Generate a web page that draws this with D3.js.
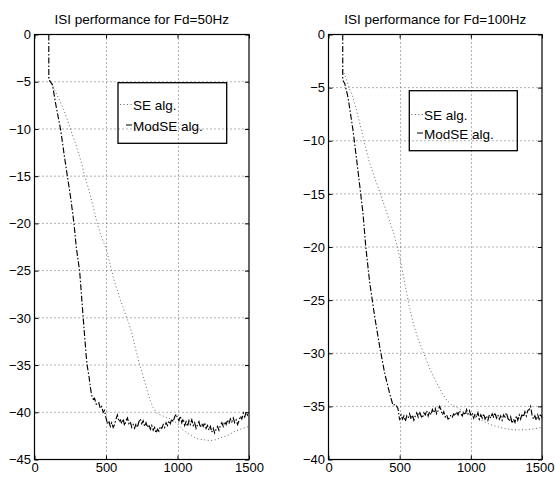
<!DOCTYPE html>
<html>
<head>
<meta charset="utf-8">
<script src="https://cdn.jsdelivr.net/npm/d3@7"></script>
<style>
  html, body { margin: 0; padding: 0; background: #fff; }
  svg { display: block; font-family: "Liberation Sans", Arial, Helvetica, sans-serif; }
</style>
</head>
<body>
<svg width="555" height="480"></svg>
<script>
// ---- data (iteration, ISI in dB) ----
const xTicks = [0, 500, 1000, 1500];
const yTicks50 = [0, -5, -10, -15, -20, -25, -30, -35, -40, -45];
const yTicks100 = [0, -5, -10, -15, -20, -25, -30, -35, -40];
const legendLabels = ['SE alg.', 'ModSE alg.'];
const titles = ['ISI performance for Fd=50Hz', 'ISI performance for Fd=100Hz'];

// Fd = 50Hz
const se50 = [
  [100, -4.5], [110, -4.9], [136, -5.7], [170, -6.8], [206, -8.0], [253, -10.1], [290, -11.7],
  [323, -13.3], [350, -14.9], [381, -16.5], [410, -18.2], [439, -20.0], [465, -21.3], [486, -22.1],
  [500, -22.6], [530, -24.4], [556, -26.0], [590, -27.6], [626, -29.2], [660, -30.6], [680, -31.6],
  [715, -33.8], [754, -35.9], [790, -37.8], [808, -38.7], [830, -39.5], [855, -40.1], [900, -40.4],
  [948, -40.7], [1000, -41.2], [1041, -41.9], [1090, -42.4], [1134, -42.8], [1180, -42.9],
  [1227, -43.0], [1270, -42.9], [1320, -42.6], [1360, -42.4], [1390, -42.1], [1440, -41.8], [1500, -41.5]
];
const modse50Head = [
  [100, 0], [100, -4.8], [110, -5.0], [125, -5.3], [150, -7.5], [183, -10.1], [210, -13.0],
  [230, -15.0], [255, -17.5], [276, -20.0], [292, -22.5], [316, -25.1], [341, -30.1], [362, -34.1],
  [369, -35.1], [381, -36.2], [390, -37.3]
];
// from 400 to 1500, every 10 iterations
const modse50Tail = [
  -38.2, -38.6, -38.5, -39.1, -39.2, -39.0, -39.6, -39.4, -40.0, -39.8,
  -40.6, -41.2, -40.9, -41.5, -41.1, -41.6, -41.3, -40.7, -40.3, -41.0,
  -40.8, -41.2, -40.7, -41.4, -40.9, -40.6, -41.2, -41.0, -41.6, -41.3,
  -41.7, -41.2, -41.6, -41.0, -40.7, -41.2, -40.9, -41.5, -41.1, -41.6,
  -41.3, -41.8, -41.4, -41.9, -41.6, -42.2, -41.8, -42.0, -41.5, -41.7,
  -41.3, -41.6, -41.1, -41.4, -40.9, -41.2, -40.7, -41.0, -40.5, -40.2,
  -40.6, -40.9, -40.4, -41.1, -40.7, -41.4, -41.0, -41.5, -40.9, -41.3,
  -40.8, -41.4, -41.1, -41.7, -41.3, -41.0, -41.6, -41.2, -41.5, -41.1,
  -41.7, -41.4, -41.9, -41.5, -42.1, -41.7, -42.2, -41.8, -41.5, -41.9,
  -41.4, -41.1, -41.5, -41.0, -41.3, -40.8, -41.2, -40.7, -41.0, -40.6,
  -41.1, -40.8, -41.3, -40.9, -40.4, -40.7, -40.1, -40.5, -40.0, -40.3,
  -40.0
];

// Fd = 100Hz
const se100 = [
  [100, -3.3], [120, -4.0], [140, -4.8], [172, -5.9], [200, -7.3], [231, -9.0], [260, -10.6],
  [289, -12.1], [325, -13.5], [360, -14.8], [395, -16.2], [430, -17.6], [460, -18.8], [485, -20.0],
  [510, -21.6], [537, -23.5], [566, -25.5], [596, -27.2], [630, -28.7], [666, -29.9], [713, -31.5],
  [760, -32.8], [795, -33.7], [830, -34.4], [860, -34.8], [901, -35.1], [950, -35.5], [994, -35.8],
  [1040, -36.1], [1088, -36.4], [1135, -36.7], [1182, -36.9], [1240, -37.1], [1299, -37.2],
  [1350, -37.2], [1393, -37.2], [1450, -37.1], [1500, -37.0]
];
const modse100Head = [
  [100, 0], [100, -4.3], [114, -4.6], [137, -5.9], [172, -9.0], [207, -12.8], [242, -16.8],
  [262, -20.0], [289, -23.3], [325, -26.6], [360, -29.4], [395, -31.9], [430, -33.8], [453, -34.9],
  [470, -34.8], [488, -35.2]
];
// from 500 to 1500, every 10 iterations
const modse100Tail = [
  -36.3, -35.8, -36.2, -35.9, -36.4, -35.9, -36.1, -35.7, -36.2, -35.8,
  -36.3, -35.9, -35.6, -36.0, -35.5, -35.9, -36.1, -35.6, -35.8, -35.4,
  -35.9, -35.5, -35.8, -35.3, -35.6, -35.2, -35.7, -35.4, -35.0, -35.3,
  -35.8, -35.5, -36.0, -35.8, -36.2, -36.1, -35.8, -36.0, -35.7, -35.9,
  -35.5, -35.8, -35.4, -35.7, -35.9, -35.5, -35.8, -35.3, -35.7, -35.4,
  -35.8, -35.6, -36.1, -35.7, -36.0, -35.6, -36.2, -35.8, -36.1, -35.7,
  -36.2, -35.9, -36.3, -35.8, -36.1, -35.7, -36.0, -35.6, -36.1, -35.8,
  -36.2, -35.9, -36.3, -35.8, -36.0, -35.6, -36.1, -36.4, -36.0, -36.6,
  -36.2, -36.5, -35.9, -36.3, -35.8, -36.2, -35.7, -36.0, -35.5, -35.9,
  -35.4, -35.3, -35.0, -35.8, -36.2, -35.9, -36.3, -35.8, -36.2, -35.7,
  -36.1
];

const withIters = (vals, start, step) => vals.map((v, i) => [start + i * step, v]);

const panels = [
  {
    left: 34.5, right: 249, top: 34.5, bottom: 459.5,
    yDomain: [-45, 0], yTicks: yTicks50, title: titles[0],
    se: se50, modse: modse50Head.concat(withIters(modse50Tail, 400, 10)),
    legend: {x0: 118, y0: 82.7, x1: 226.7, y1: 143.3, tx: 133, ty: [110, 130.5]}
  },
  {
    left: 328.5, right: 542, top: 34.5, bottom: 459.5,
    yDomain: [-40, 0], yTicks: yTicks100, title: titles[1],
    se: se100, modse: modse100Head.concat(withIters(modse100Tail, 500, 10)),
    legend: {x0: 409.3, y0: 90.7, x1: 517.3, y1: 150.7, tx: 424, ty: [120, 138.5]}
  }
];

const W = 555;
const svg = d3.select('svg');

panels.forEach((p, idx) => {
  const x = d3.scaleLinear().domain([0, 1500]).range([p.left, p.right]);
  const y = d3.scaleLinear().domain(p.yDomain).range([p.bottom, p.top]);
  const g = svg.append('g');

  g.append('defs').append('clipPath')
    .attr('id', 'clip' + idx)
    .append('rect')
    .attr('x', p.left).attr('y', p.top)
    .attr('width', p.right - p.left).attr('height', p.bottom - p.top);

  // dotted grid
  const grid = g.append('g').attr('stroke', '#666').attr('stroke-width', 1)
    .attr('stroke-dasharray', '1,3');
  xTicks.filter(t => t > 0 && t < 1500).forEach(t => {
    grid.append('line')
      .attr('x1', Math.round(x(t)) + 0.5).attr('x2', Math.round(x(t)) + 0.5)
      .attr('y1', p.top).attr('y2', p.bottom);
  });
  p.yTicks.filter(t => t < 0 && t > p.yDomain[0]).forEach(t => {
    grid.append('line')
      .attr('x1', p.left).attr('x2', p.right)
      .attr('y1', y(t)).attr('y2', y(t));
  });

  // curves
  const line = d3.line().x(d => x(d[0])).y(d => y(d[1]));
  const curves = g.append('g').attr('clip-path', `url(#clip${idx})`).attr('fill', 'none');
  curves.append('path')
    .datum(p.se)
    .attr('d', line)
    .attr('stroke', '#666')
    .attr('stroke-width', 1)
    .attr('stroke-dasharray', '1,2.5');
  curves.append('path')
    .datum(p.modse)
    .attr('d', line)
    .attr('stroke', '#000')
    .attr('stroke-width', 1.15)
    .attr('stroke-dasharray', '6,2,1.5,2');

  // axes with inward ticks on all four sides
  const fontSize = '13px';
  const ax = g.append('g').attr('transform', `translate(0,${p.bottom})`)
    .call(d3.axisBottom(x).tickValues(xTicks).tickSize(-4).tickPadding(3).tickFormat(d3.format('d')));
  const ay = g.append('g').attr('transform', `translate(${p.left},0)`)
    .call(d3.axisLeft(y).tickValues(p.yTicks).tickSize(-4).tickPadding(3.5));
  const at = g.append('g').attr('transform', `translate(0,${p.top})`)
    .call(d3.axisTop(x).tickValues(xTicks).tickSize(-4).tickFormat(''));
  const ar = g.append('g').attr('transform', `translate(${p.right},0)`)
    .call(d3.axisRight(y).tickValues(p.yTicks).tickSize(-4).tickFormat(''));
  [ax, ay, at, ar].forEach(a => {
    a.select('.domain').remove();
    a.selectAll('text').attr('font-size', fontSize).attr('font-family', null).attr('fill', '#000');
    a.selectAll('line').attr('stroke', '#000');
  });

  // keep the last x label inside the page
  ax.selectAll('.tick text').each(function(d) {
    const b = this.getBBox();
    const tx = x(d);
    const over = tx + b.x + b.width - (W - 1);
    if (over > 0) d3.select(this).attr('x', -over);
  });

  // frame
  g.append('rect')
    .attr('x', p.left).attr('y', p.top)
    .attr('width', p.right - p.left).attr('height', p.bottom - p.top)
    .attr('fill', 'none').attr('stroke', '#000').attr('stroke-width', 1.2);

  // title
  g.append('text')
    .attr('x', (p.left + p.right) / 2).attr('y', 24)
    .attr('text-anchor', 'middle')
    .attr('font-size', '13.5px')
    .text(p.title);

  // legend (transparent box, as in the original)
  const L = p.legend;
  const lg = g.append('g');
  lg.append('rect')
    .attr('x', L.x0).attr('y', L.y0)
    .attr('width', L.x1 - L.x0).attr('height', L.y1 - L.y0)
    .attr('fill', 'none').attr('stroke', '#000').attr('stroke-width', 1.3);
  lg.append('line')
    .attr('x1', L.x0 + 2).attr('x2', L.tx - 1)
    .attr('y1', L.ty[0] - 5.5).attr('y2', L.ty[0] - 5.5)
    .attr('stroke', '#666').attr('stroke-dasharray', '1,2.5');
  lg.append('line')
    .attr('x1', L.tx - 7).attr('x2', L.tx - 1)
    .attr('y1', L.ty[1] - 5.5).attr('y2', L.ty[1] - 5.5)
    .attr('stroke', '#000');
  legendLabels.forEach((t, i) => {
    lg.append('text')
      .attr('x', L.tx).attr('y', L.ty[i])
      .attr('font-size', '13.5px')
      .text(t);
  });
});
</script>
</body>
</html>
